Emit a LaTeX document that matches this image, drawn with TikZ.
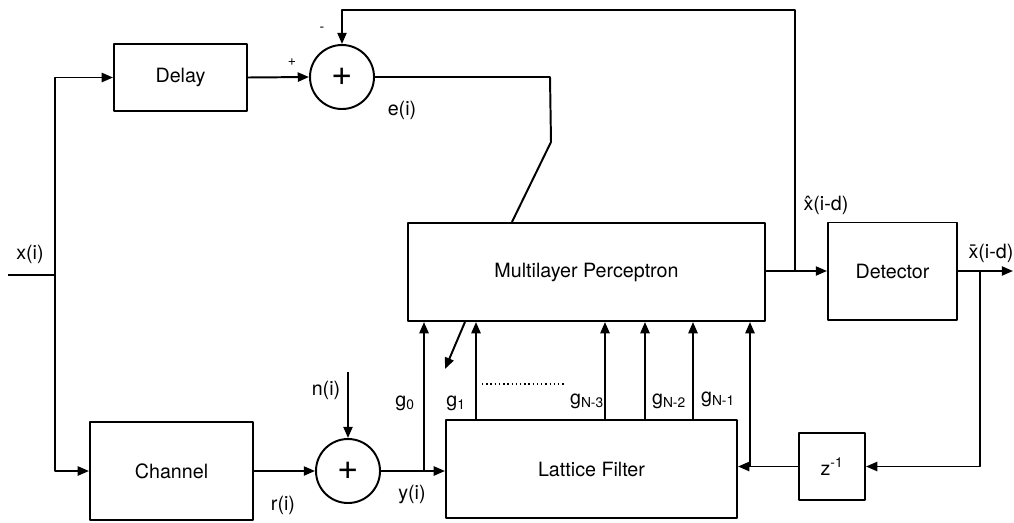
\documentclass[tikz,border=0pt]{standalone}
\usepackage{fontspec}
\setmainfont{TeX Gyre Heros}
\usetikzlibrary{arrows.meta,calc}

\begin{document}
\begin{tikzpicture}[x=0.025cm,y=-0.025cm,>={Triangle[length=8pt,width=6.5pt]},line width=1.4pt,line join=round,
  block/.style={draw,font=\fontsize{14}{16}\selectfont},
  adder/.style={draw,circle,minimum size=1.6cm,inner sep=0pt,font=\fontsize{26}{28}\selectfont},
  lbl/.style={font=\fontsize{14}{16}\selectfont,inner sep=1pt}]
\useasboundingbox (0,0) rectangle (1014,522);
\node[block,minimum width=3.325cm,minimum height=1.675cm] (delay) at (180.5,77.5) {Delay};
\node[block,minimum width=4.075cm,minimum height=2.45cm] (chan) at (171.5,471) {Channel};
\node[block,minimum width=8.925cm,minimum height=2.45cm] (mlp) at (586.5,272) {Multilayer Perceptron};
\node[block,minimum width=3.225cm,minimum height=2.425cm] (det) at (892.5,271) {Detector};
\node[block,minimum width=7.275cm,minimum height=2.45cm] (lat) at (591.5,469) {Lattice Filter};
\node[block,minimum width=1.65cm,minimum height=1.675cm] (zinv) at (832,466.5) {z\textsuperscript{-1}};
\node[adder] (sum1) at (342,77) {+};
\node[adder] (sum2) at (348,471) {+};
\coordinate (in) at (8,275);
\coordinate (split) at (55,275);
\coordinate (top) at (795,10);
\coordinate (tap) at (795,271);
\coordinate (tap2) at (980,271);
\coordinate (out) at (1013,271);
\coordinate (noise) at (348,372);
\coordinate (yj) at (424,471);
\coordinate (fb) at (750,466.5);
\draw (in) -- (split);
\draw[->] (split) |- (delay.west);
\draw[->] (split) |- (chan.west);
\draw[->] (delay.east) -- (sum1.west);
\draw (sum1.east) -- (550,77) -- (551,142) -- ($(mlp.north west)+(105,0)$);
\draw[->] (tap) -- (top) -| (sum1.north);
\draw[->] (mlp.east |- det.west) -- (det.west);
\draw[->] (det.east) -- (out);
\draw[->] (tap2) |- (zinv.east);
\draw[->] (zinv.west) -- (zinv.west -| lat.east);
\draw[->] (fb) -- (fb |- mlp.south);
\draw[->] (chan.east |- sum2.west) -- (sum2.west);
\draw[->] (noise) -- (sum2.north);
\draw[->] (sum2.east) -- (sum2.east -| lat.west);
\draw[->] (yj) -- (yj |- mlp.south);
\foreach \gx in {476,605,645,693}
  \draw[->] (\gx,0 |- lat.north) -- (\gx,0 |- mlp.south);
\draw[->] ($(mlp.south west)+(58,0)$) -- (445,369);
\draw[line width=1pt,dotted] (482,384) -- (565,384);
\node[lbl] (lx) at (30,254) {x(i)};
\node[lbl,font=\fontsize{10}{11}\selectfont] (lplus) at (292,62) {+};
\node[lbl,font=\fontsize{10}{11}\selectfont] (lminus) at (322,29) {-};
\node[lbl] (le) at (402,110) {e(i)};
\node[lbl] (lxhat) at (826,205) {\^{x}(i-d)};
\node[lbl] (lxbar) at (991,253) {\={x}(i-d)};
\node[lbl] (lr) at (283,505) {r(i)};
\node[lbl] (ln) at (326,390) {n(i)};
\node[lbl] (ly) at (412,494) {y(i)};
\node[lbl] (lg0) at (405,403) {g\textsubscript{0}};
\node[lbl] (lg1) at (456,403) {g\textsubscript{1}};
\node[lbl] (lg3) at (587,401) {g\textsubscript{N-3}};
\node[lbl] (lg2) at (669,401) {g\textsubscript{N-2}};
\node[lbl] (lg1b) at (718,399) {g\textsubscript{N-1}};
\end{tikzpicture}
\end{document}
